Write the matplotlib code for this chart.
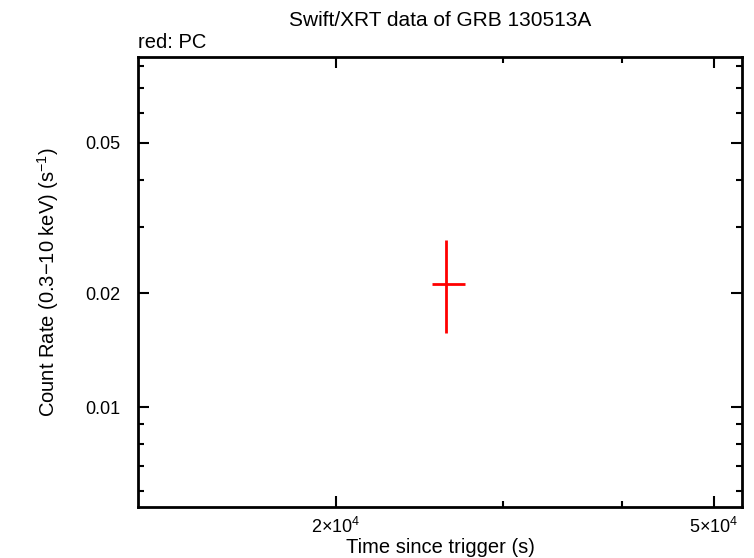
import matplotlib
matplotlib.use("Agg")
import matplotlib.pyplot as plt
from matplotlib.ticker import FixedLocator, FixedFormatter, NullFormatter

plt.rcParams['font.family'] = ['Liberation Sans', 'DejaVu Sans']
plt.rcParams['mathtext.fontset'] = 'custom'
plt.rcParams['mathtext.rm'] = 'Liberation Sans'

# PC mode data
t = [26110]
t_lo = [25240]
t_hi = [27340]
rate = [0.02112]
rate_lo = [0.01572]
rate_hi = [0.02765]

x_ticks = [2e4, 5e4]
x_ticklabels = [r'$\mathregular{2{\times}10^{4}}$', r'$\mathregular{5{\times}10^{4}}$']
x_minor = [3e4, 4e4]
y_ticks = [0.01, 0.02, 0.05]
y_ticklabels = ['0.01', '0.02', '0.05']
y_minor = [0.006, 0.007, 0.008, 0.009, 0.03, 0.04, 0.06, 0.07, 0.08]


def main():
    fig = plt.figure(figsize=(7.54, 5.58), dpi=100)
    ax = fig.add_axes([138 / 754, 1 - 507 / 558, 604 / 754, 450 / 558])

    xerr = [[c - l for c, l in zip(t, t_lo)], [h - c for c, h in zip(t, t_hi)]]
    yerr = [[c - l for c, l in zip(rate, rate_lo)], [h - c for c, h in zip(rate, rate_hi)]]
    ax.errorbar(t, rate, xerr=xerr, yerr=yerr, fmt='none', ecolor='red',
                elinewidth=2, capsize=0)

    ax.set_xscale('log')
    ax.set_yscale('log')
    ax.set_xlim(12380, 53500)
    ax.set_ylim(0.00544, 0.0844)

    ax.xaxis.set_major_locator(FixedLocator(x_ticks))
    ax.xaxis.set_major_formatter(FixedFormatter(x_ticklabels))
    ax.xaxis.set_minor_locator(FixedLocator(x_minor))
    ax.xaxis.set_minor_formatter(NullFormatter())
    ax.yaxis.set_major_locator(FixedLocator(y_ticks))
    ax.yaxis.set_major_formatter(FixedFormatter(y_ticklabels))
    ax.yaxis.set_minor_locator(FixedLocator(y_minor))
    ax.yaxis.set_minor_formatter(NullFormatter())

    ax.tick_params(which='both', direction='in', top=True, right=True,
                   labelsize=13, width=1.5)
    ax.tick_params(axis='x', which='major', pad=7)
    ax.tick_params(axis='y', which='major', pad=13)
    ax.tick_params(which='major', length=8)
    ax.tick_params(which='minor', length=4)
    for s in ax.spines.values():
        s.set_linewidth(2)

    ax.set_xlabel('Time since trigger (s)', fontsize=14.5, labelpad=1)
    ax.set_ylabel(r'Count Rate (0.3$-$10 keV) (s$^{-1}$)', fontsize=14.5, labelpad=17)
    fig.text(440 / 754, 1 - 20 / 558, 'Swift/XRT data of GRB 130513A',
             ha='center', va='center', fontsize=15)
    fig.text(138 / 754, 1 - 43 / 558, 'red: PC', ha='left', va='center', fontsize=14.5)

    fig.savefig('out.png', dpi=100)


if __name__ == "__main__":
    main()
